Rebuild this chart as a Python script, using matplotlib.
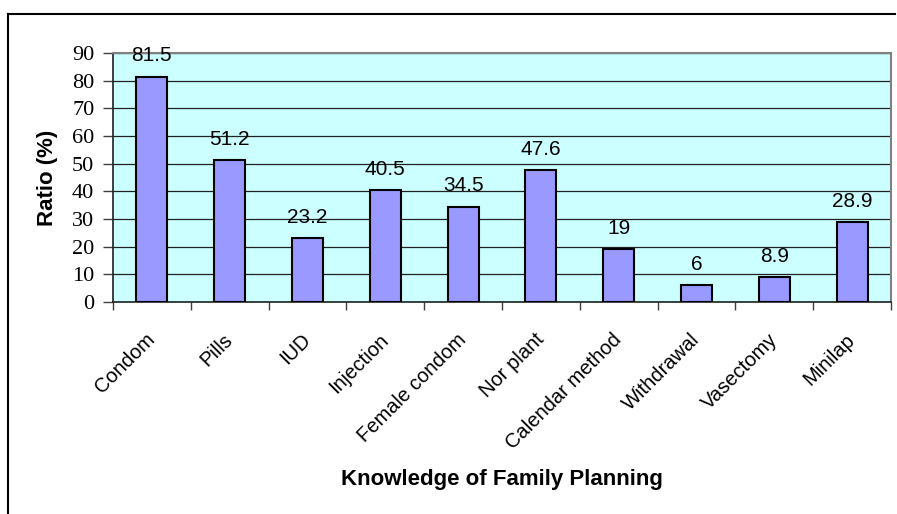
import matplotlib
matplotlib.use("Agg")
import matplotlib.pyplot as plt
from matplotlib.lines import Line2D
import numpy as np

methods = ["Condom", "Pills", "IUD", "Injection", "Female condom", "Nor plant",
           "Calendar method", "Withdrawal", "Vasectomy", "Minilap"]
ratios = [81.5, 51.2, 23.2, 40.5, 34.5, 47.6, 19, 6, 8.9, 28.9]
y_ticks = [0, 10, 20, 30, 40, 50, 60, 70, 80, 90]

W, H = 897, 514
fig = plt.figure(figsize=(W / 100, H / 100), dpi=100)
fig.patch.set_facecolor("white")

# plot area placed in pixel terms
left, right, top, bottom = 113, 891, 53, 302
ax = fig.add_axes([left / W, 1 - bottom / H, (right - left) / W, (bottom - top) / H])
ax.set_facecolor("#CCFFFF")

x = np.arange(len(methods))
ax.bar(x, ratios, width=0.4, color="#9999FF", edgecolor="black", linewidth=1.5, zorder=3)

for xi, v in zip(x, ratios):
    ax.annotate(f"{v:g}", (xi, v), xytext=(0, 8), textcoords="offset points",
                ha="center", va="bottom", fontsize=15, family="Liberation Sans")

ax.set_xlim(-0.5, len(methods) - 0.5)
ax.set_ylim(0, 90)
ax.set_yticks(y_ticks)
ax.set_yticklabels([str(t) for t in y_ticks], family="Liberation Serif", fontsize=16)
ax.yaxis.grid(True, color="#202020", linewidth=0.9, zorder=1)
ax.set_axisbelow(True)

# category ticks sit on the boundaries, labels at bar centres
ax.set_xticks(np.arange(len(methods) + 1) - 0.5)
ax.set_xticklabels([])
ax.set_xticks(x, minor=True)
ax.set_xticklabels(methods, minor=True, rotation=45, ha="right", va="center",
                   rotation_mode="anchor", family="Liberation Sans", fontsize=14.5)
ax.tick_params(axis="x", which="minor", length=0, pad=25)
ax.tick_params(axis="x", which="major", length=6, width=1, color="#404040", direction="out")
ax.tick_params(axis="y", length=7, width=1, color="#404040", direction="out", pad=6.5)

for side in ["top", "right"]:
    ax.spines[side].set_color("#808080")
    ax.spines[side].set_linewidth(1.5)
for side in ["left", "bottom"]:
    ax.spines[side].set_color("#202020")
    ax.spines[side].set_linewidth(1.2)

fig.text(47 / W, 1 - 177.5 / H, "Ratio (%)", rotation=90, ha="center", va="center",
         fontsize=16, fontweight="bold", family="Liberation Sans")
fig.text(502 / W, 1 - 480 / H, "Knowledge of Family Planning", ha="center", va="center",
         fontsize=16, fontweight="bold", family="Liberation Sans")

# outer chart frame (top and left edges are the visible ones)
fig.add_artist(Line2D([8 / W, 895 / W], [1 - 14 / H, 1 - 14 / H], color="black", linewidth=1.5))
fig.add_artist(Line2D([8 / W, 8 / W], [1 - 14 / H, 0], color="black", linewidth=1.5))

fig.savefig("out.png", dpi=100)
